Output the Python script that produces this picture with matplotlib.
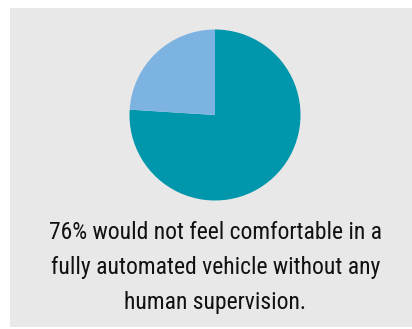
import matplotlib.pyplot as plt
from matplotlib.patches import Rectangle

labels = ['Not comfortable', 'Comfortable']
shares = [76, 24]
colors = ['#0096ab', '#7db3e0']
caption = ['76% would not feel comfortable in a',
           'fully automated vehicle without any',
           'human supervision.']

W, H = 412, 329
fig = plt.figure(figsize=(W / 100, H / 100), dpi=100)
fig.patch.set_facecolor('white')

# grey panel behind everything
bg = fig.add_axes([0, 0, 1, 1])
bg.set_xlim(0, W)
bg.set_ylim(H, 0)
bg.axis('off')
bg.add_patch(Rectangle((10, 8), W - 10, 319, color='#e8e8e8', lw=0))

# pie, centred at (215, 115) px with radius ~85.5 px
r = 85.5
cx, cy = 215, 115
ax = fig.add_axes([(cx - r) / W, 1 - (cy + r) / H, 2 * r / W, 2 * r / H])
ax.pie(shares, colors=colors, startangle=90, counterclock=False,
       wedgeprops=dict(linewidth=0))
ax.set_aspect('auto')
ax.set_xlim(-1, 1)
ax.set_ylim(-1, 1)

for i, line in enumerate(caption):
    bg.text(215.5, 239 + i * 35, line, ha='center', va='baseline',
            fontsize=17, color='#111111',
            family=['Roboto Condensed', 'DejaVu Sans'])

fig.savefig('out.png', dpi=100, facecolor=fig.get_facecolor())
